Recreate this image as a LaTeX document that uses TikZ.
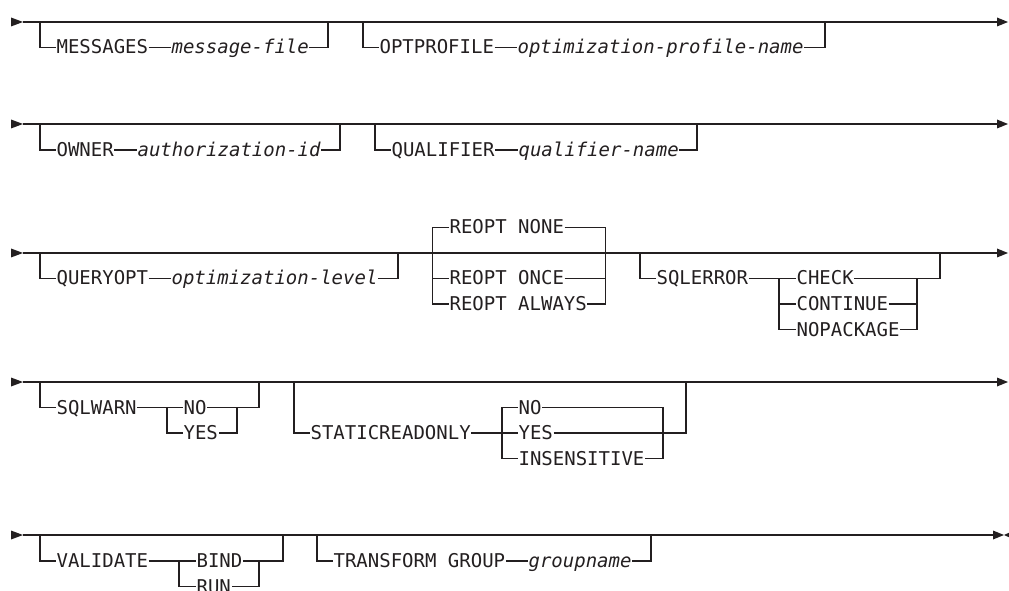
\documentclass[tikz,border=0pt]{standalone}
\usepackage{fontspec}
\setmonofont{DejaVu Sans Mono}
\definecolor{ink}{HTML}{231F20}
\begin{document}
\begin{tikzpicture}[x=0.75pt,y=-0.75pt,line width=0.9pt,color=ink,
  txt/.style={inner sep=0pt,text height=9.75pt,text depth=0pt,anchor=west,
    font=\ttfamily\fontsize{14.25pt}{17pt}\selectfont},
  var/.style={txt,font=\ttfamily\itshape\fontsize{14.25pt}{17pt}\selectfont}]
\useasboundingbox (0,0) rectangle (1009,591);

% ---------- row 1 ----------
\coordinate (s1) at (23,22); \coordinate (e1) at (997,22);
\fill (s1) -- ++(-12,-4.5) -- ++(0,9) -- cycle;
\draw (s1) -- (e1);
\fill (e1) -- ++(0,-4.5) -- ++(11,4.5) -- ++(-11,4.5) -- cycle;
\coordinate (r1a) at (40,22); \coordinate (r1b) at (328,22);
\coordinate (r1c) at (363,22); \coordinate (r1d) at (825,22);
\node[txt] (messages) at (56,47.5) {MESSAGES};
\node[var] (msgfile) at (171,47.5) {message-file};
\draw (r1a) |- (messages.west);
\draw (messages.east) -- (msgfile.west);
\draw (msgfile.east) -| (r1b);
\node[txt] (optprofile) at (379,47.5) {OPTPROFILE};
\node[var] (optname) at (517,47.5) {optimization-profile-name};
\draw (r1c) |- (optprofile.west);
\draw (optprofile.east) -- (optname.west);
\draw (optname.east) -| (r1d);

% ---------- row 2 ----------
\coordinate (s2) at (23,124); \coordinate (e2) at (997,124);
\fill (s2) -- ++(-12,-4.5) -- ++(0,9) -- cycle;
\draw (s2) -- (e2);
\fill (e2) -- ++(0,-4.5) -- ++(11,4.5) -- ++(-11,4.5) -- cycle;
\coordinate (r2a) at (40,124); \coordinate (r2b) at (340,124);
\coordinate (r2c) at (375,124); \coordinate (r2d) at (697,124);
\node[txt] (owner) at (56,150) {OWNER};
\node[var] (authid) at (137,150) {authorization-id};
\draw (r2a) |- (owner.west);
\draw (owner.east) -- (authid.west);
\draw (authid.east) -| (r2b);
\node[txt] (qualifier) at (391,150) {QUALIFIER};
\node[var] (qualname) at (518,150) {qualifier-name};
\draw (r2c) |- (qualifier.west);
\draw (qualifier.east) -- (qualname.west);
\draw (qualname.east) -| (r2d);

% ---------- row 3 ----------
\coordinate (s3) at (23,253); \coordinate (e3) at (997,253);
\fill (s3) -- ++(-12,-4.5) -- ++(0,9) -- cycle;
\draw (s3) -- (e3);
\fill (e3) -- ++(0,-4.5) -- ++(11,4.5) -- ++(-11,4.5) -- cycle;
\coordinate (r3a) at (40,253); \coordinate (r3b) at (398,253);
\node[txt] (queryopt) at (56,278.5) {QUERYOPT};
\node[var] (optlevel) at (171,278.5) {optimization-level};
\draw (r3a) |- (queryopt.west);
\draw (queryopt.east) -- (optlevel.west);
\draw (optlevel.east) -| (r3b);
% REOPT
\coordinate (rl) at (432.5,253); \coordinate (rr) at (605.5,253);
\node[txt] (reoptnone) at (449,227.5) {REOPT NONE};
\node[txt] (reoptonce) at (449,278.5) {REOPT ONCE};
\node[txt] (reoptalways) at (449,304) {REOPT ALWAYS};
\draw (reoptnone.west) -| (rl) |- (reoptalways.west);
\draw (rl |- reoptonce.west) -- (reoptonce.west);
\draw (reoptnone.east) -| (rr) |- (reoptalways.east);
\draw (reoptonce.east) -- (rr |- reoptonce.east);
% SQLERROR
\coordinate (r3c) at (640,253); \coordinate (r3d) at (940,253);
\coordinate (ol) at (779,278.5); \coordinate (or) at (917,278.5);
\node[txt] (sqlerror) at (656,278.5) {SQLERROR};
\node[txt] (check) at (796,278.5) {CHECK};
\node[txt] (continue) at (796,304) {CONTINUE};
\node[txt] (nopackage) at (796,329.5) {NOPACKAGE};
\draw (r3c) |- (sqlerror.west);
\draw (sqlerror.east) -- (check.west);
\draw (ol) |- (nopackage.west);
\draw (ol |- continue.west) -- (continue.west);
\draw (check.east) -| (r3d);
\draw (or) |- (nopackage.east);
\draw (continue.east) -- (or |- continue.east);

% ---------- row 4 ----------
\coordinate (s4) at (23,382); \coordinate (e4) at (997,382);
\fill (s4) -- ++(-12,-4.5) -- ++(0,9) -- cycle;
\draw (s4) -- (e4);
\fill (e4) -- ++(0,-4.5) -- ++(11,4.5) -- ++(-11,4.5) -- cycle;
\coordinate (r4a) at (40,382); \coordinate (r4b) at (259,382);
\coordinate (swl) at (167,407.5); \coordinate (swr) at (237,407.5);
\node[txt] (sqlwarn) at (56,407.5) {SQLWARN};
\node[txt] (no1) at (183,407.5) {NO};
\node[txt] (yes1) at (183,433) {YES};
\draw (r4a) |- (sqlwarn.west);
\draw (sqlwarn.east) -- (no1.west);
\draw (swl) |- (yes1.west);
\draw (no1.east) -| (r4b);
\draw (swr) |- (yes1.east);
% STATICREADONLY
\coordinate (r4c) at (294,382); \coordinate (r4d) at (686,382);
\coordinate (srl) at (502,433); \coordinate (srr) at (663,433);
\node[txt] (static) at (310,433) {STATICREADONLY};
\node[txt] (no2) at (518,407.5) {NO};
\node[txt] (yes2) at (518,433) {YES};
\node[txt] (insens) at (518,458.5) {INSENSITIVE};
\draw (r4c) |- (static.west);
\draw (static.east) -- (yes2.west);
\draw (no2.west) -| (srl) |- (insens.west);
\draw (no2.east) -| (srr) |- (insens.east);
\draw (yes2.east) -| (r4d);

% ---------- row 5 ----------
\coordinate (s5) at (23,535); \coordinate (e5) at (993,535);
\fill (s5) -- ++(-12,-4.5) -- ++(0,9) -- cycle;
\draw (s5) -- (e5);
\fill (e5) -- ++(0,-4.5) -- ++(11,4.5) -- ++(-11,4.5) -- cycle;
\fill (e5) ++(11,0) -- ++(10,-4.5) -- ++(0,9) -- cycle;
\coordinate (r5a) at (40,535); \coordinate (r5b) at (283,535);
\coordinate (vl) at (179,561); \coordinate (vr) at (259,561);
\node[txt] (validate) at (56,561) {VALIDATE};
\node[txt] (bind) at (196,561) {BIND};
\node[txt] (run) at (196,586.5) {RUN};
\draw (r5a) |- (validate.west);
\draw (validate.east) -- (bind.west);
\draw (vl) |- (run.west);
\draw (bind.east) -| (r5b);
\draw (vr) |- (run.east);
\coordinate (r5c) at (317,535); \coordinate (r5d) at (651,535);
\node[txt] (transform) at (333,561) {TRANSFORM GROUP};
\node[var] (groupname) at (528,561) {groupname};
\draw (r5c) |- (transform.west);
\draw (transform.east) -- (groupname.west);
\draw (groupname.east) -| (r5d);
\end{tikzpicture}
\end{document}
